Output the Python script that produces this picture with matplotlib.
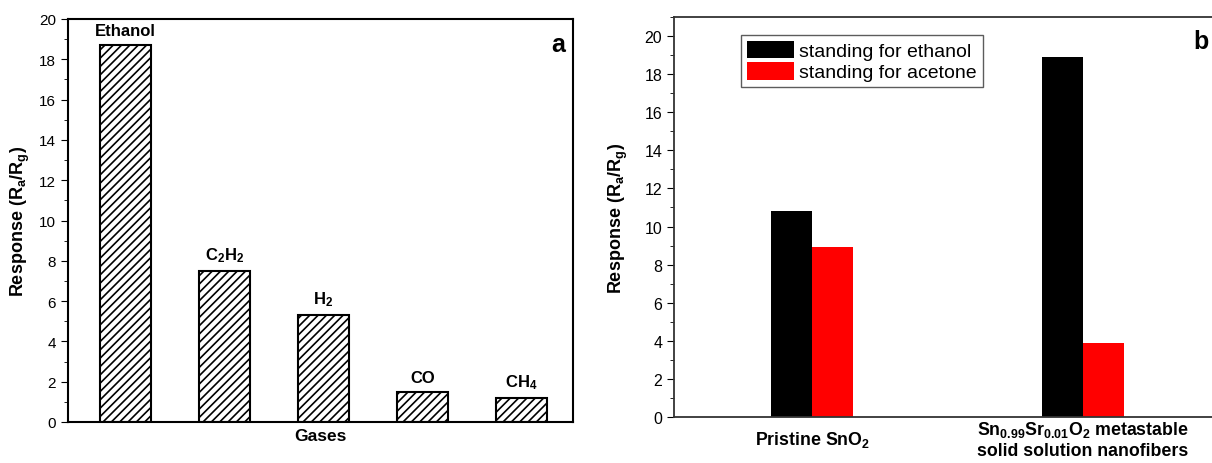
import matplotlib
matplotlib.use("Agg")
import matplotlib.pyplot as plt
from matplotlib.ticker import MultipleLocator
import numpy as np

plt.rcParams['font.family'] = ['Liberation Sans', 'DejaVu Sans']
plt.rcParams['mathtext.fontset'] = 'custom'
plt.rcParams['mathtext.rm'] = 'Liberation Sans:bold'
plt.rcParams['mathtext.bf'] = 'Liberation Sans:bold'
plt.rcParams['mathtext.it'] = 'Liberation Sans:bold'
plt.rcParams['mathtext.default'] = 'bf'
plt.rcParams['hatch.linewidth'] = 1.2

# Panel a data
gases = ["Ethanol", r"C$_2$H$_2$", r"H$_2$", "CO", r"CH$_4$"]
gas_response = [18.7, 7.5, 5.3, 1.5, 1.2]

# Panel b data
materials = [r"Pristine SnO$_2$",
             "Sn$_{0.99}$Sr$_{0.01}$O$_2$ metastable\nsolid solution nanofibers"]
ethanol_resp = [10.8, 18.9]
acetone_resp = [8.9, 3.9]
series_names = ["standing for ethanol", "standing for acetone"]

fig = plt.figure(figsize=(12.12, 4.64), dpi=100)

# ---------- Panel a ----------
axa = fig.add_axes([68/1212, 1-423/464, (573-68)/1212, (423-20)/464])
xa = np.arange(len(gases))
axa.bar(xa, gas_response, width=0.51, facecolor='white',
        edgecolor='black', linewidth=1.5, hatch='////')
for xi, v, lab in zip(xa, gas_response, gases):
    axa.annotate(lab, (xi, v), xytext=(0, 5), textcoords='offset points',
                 ha='center', va='bottom', fontsize=12, fontweight='bold')
axa.set_xlim(-0.58, 4.52)
axa.set_ylim(0, 20)
axa.yaxis.set_major_locator(MultipleLocator(2))
axa.yaxis.set_minor_locator(MultipleLocator(1))
axa.set_xticks([])
axa.tick_params(axis='y', which='both', direction='out', labelsize=11)
axa.tick_params(axis='y', which='major', length=5)
axa.tick_params(axis='y', which='minor', length=3)
for s in axa.spines.values():
    s.set_linewidth(1.5)
axa.set_xlabel("Gases", fontsize=12.5, fontweight='bold', labelpad=4)
axa.set_ylabel(r"Response (R$_a$/R$_g$)", fontsize=13, fontweight='bold',
               labelpad=5)
axa.text(0.97, 0.938, "a", transform=axa.transAxes, ha='center', va='center',
         fontsize=18, fontweight='bold')

# ---------- Panel b ----------
axb = fig.add_axes([674/1212, 1-418/464, (1221-674)/1212, (418-18)/464])
xb = np.arange(len(materials))
w = 0.151
axb.bar(xb - w/2, ethanol_resp, width=w, color='black', label=series_names[0])
axb.bar(xb + w/2, acetone_resp, width=w, color='#ff0000', label=series_names[1])
axb.set_xlim(-0.51, 1.51)
axb.set_ylim(0, 21)
axb.yaxis.set_major_locator(MultipleLocator(2))
axb.yaxis.set_minor_locator(MultipleLocator(1))
axb.set_xticks(xb)
axb.set_xticklabels(materials, fontsize=12.8, fontweight='bold',
                    linespacing=1.2, va='center')
axb.tick_params(axis='x', length=0, pad=16)
axb.tick_params(axis='y', which='both', direction='out', labelsize=11.5)
axb.tick_params(axis='y', which='major', length=5)
axb.tick_params(axis='y', which='minor', length=3)
for s in axb.spines.values():
    s.set_linewidth(1.3)
    s.set_color('#333333')
axb.set_ylabel(r"Response (R$_a$/R$_g$)", fontsize=13, fontweight='bold',
               labelpad=10)
leg = axb.legend(loc='upper left', bbox_to_anchor=((741-674)/547, (418-36)/400),
                 borderaxespad=0, fontsize=14, frameon=True, fancybox=False,
                 edgecolor='#333333', handlelength=2.4, handleheight=1.0,
                 handletextpad=0.3, labelspacing=0.1, borderpad=0.3)
leg.get_frame().set_linewidth(1.0)
axb.text((1193-674)/547, (418-42)/400, "b", transform=axb.transAxes,
         ha='left', va='center', fontsize=18, fontweight='bold')

fig.savefig("out.png", dpi=100)
